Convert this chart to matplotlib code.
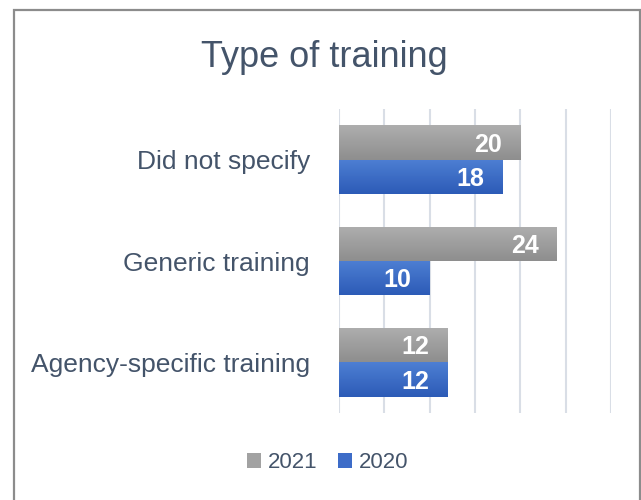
import numpy as np
import matplotlib
matplotlib.use("Agg")
import matplotlib.pyplot as plt
from matplotlib.patches import Rectangle, Patch
from matplotlib.colors import LinearSegmentedColormap

plt.rcParams['font.family'] = ['Liberation Sans', 'DejaVu Sans']

# data
categories = ["Did not specify", "Generic training", "Agency-specific training"]
values_2021 = [20, 24, 12]
values_2020 = [18, 10, 12]
series_names = ["2021", "2020"]
x_ticks = [0, 5, 10, 15, 20, 25, 30]

text_col = "#44546A"
grey_top, grey_bot = "#AEAEAE", "#8E8E8E"
blue_top, blue_bot = "#4E7FD3", "#2C5BB7"

fig = plt.figure(figsize=(6.41, 5.0), dpi=100)
ax = fig.add_axes([339 / 641, 87 / 500, 272 / 641, 304 / 500])


def gradient_bars(ax, y, w, h, c_top, c_bot):
    cmap = LinearSegmentedColormap.from_list("g", [c_top, c_bot])
    grad = np.linspace(0, 1, 64).reshape(-1, 1)
    bars = ax.barh(y, w, height=h, color=c_bot, zorder=2, linewidth=0)
    for b in bars:
        x0, y0 = b.get_x(), b.get_y()
        bw, bh = b.get_width(), b.get_height()
        # inverted y axis: y0 is the upper edge on screen
        im = ax.imshow(grad, cmap=cmap, aspect="auto", zorder=3,
                       extent=(x0, x0 + bw, y0 + bh, y0), interpolation="bicubic")
        im.set_clip_path(b)
    return bars


y = np.arange(len(categories))
bh = 0.339
gradient_bars(ax, y - bh / 2, values_2021, bh, grey_top, grey_bot)
gradient_bars(ax, y + bh / 2, values_2020, bh, blue_top, blue_bot)

for yy, v in zip(y - bh / 2, values_2021):
    ax.annotate(str(v), (v, yy), xytext=(-13, -1.5), textcoords="offset points",
                ha="right", va="center", color="white", fontsize=18,
                fontweight="bold", zorder=5)
for yy, v in zip(y + bh / 2, values_2020):
    ax.annotate(str(v), (v, yy), xytext=(-13, -1.5), textcoords="offset points",
                ha="right", va="center", color="white", fontsize=18,
                fontweight="bold", zorder=5)

ax.set_xlim(0, 30)
ax.set_ylim(len(categories) - 0.5, -0.5)
for t in x_ticks:
    ax.axvline(t, color="#D9DEE6", lw=1.5, zorder=1)
ax.set_xticks([])
ax.set_yticks(y)
ax.set_yticklabels(categories, fontsize=19, color=text_col)
ax.tick_params(axis="y", length=0, pad=21)
for s in ax.spines.values():
    s.set_visible(False)

fig.text(324.4 / 641, 1 - 66.7 / 500, "Type of training", ha="center",
         va="baseline", fontsize=26, color=text_col)

handles = [Patch(facecolor="#A2A2A2", edgecolor="none"),
           Patch(facecolor="#3D6CC8", edgecolor="none")]
fig.legend(handles, series_names, loc="center", ncol=2, frameon=False,
           bbox_to_anchor=(327.5 / 641, 1 - 463 / 500), fontsize=16,
           labelcolor=text_col, handlelength=0.63, handleheight=0.63,
           handletextpad=0.3, columnspacing=0.95)

# chart border (bottom edge is outside the image)
fig.patches.append(Rectangle((13.5 / 641, -0.05), (640 - 13.5) / 641, 1.05 - 10.5 / 500,
                             transform=fig.transFigure, fill=False,
                             edgecolor="#8C8C8C", lw=1.6, clip_on=False))

fig.savefig("out.png", dpi=100)
